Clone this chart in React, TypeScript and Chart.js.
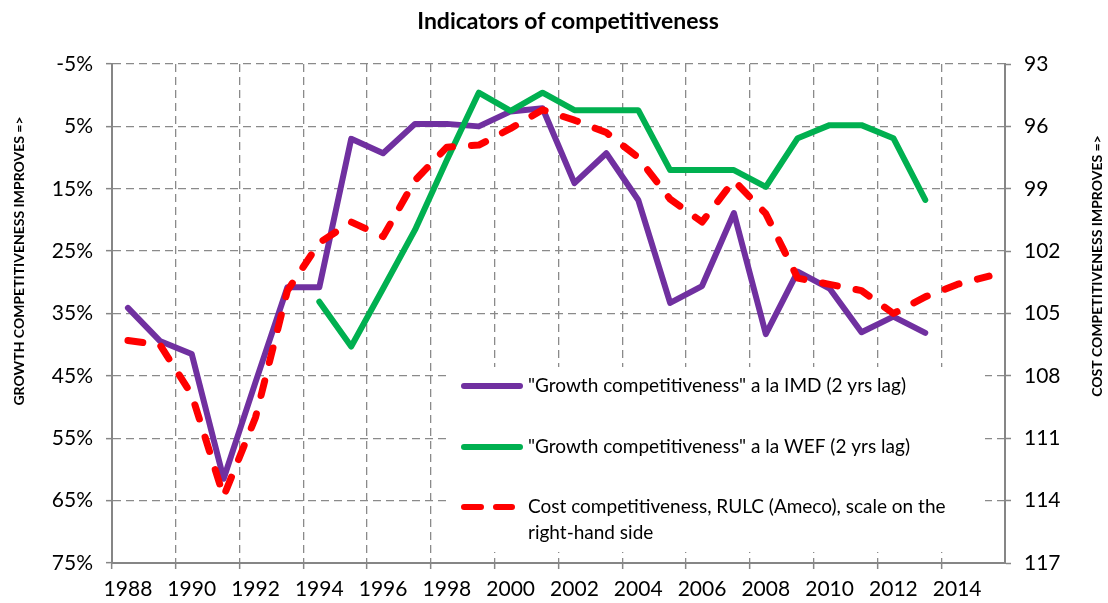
import React, { useEffect, useRef } from 'react';
import { Chart, registerables } from 'chart.js';

Chart.register(...registerables);

const years = [
  '1988', '1989', '1990', '1991', '1992', '1993', '1994', '1995', '1996', '1997',
  '1998', '1999', '2000', '2001', '2002', '2003', '2004', '2005', '2006', '2007',
  '2008', '2009', '2010', '2011', '2012', '2013', '2014', '2015',
];

// "Growth competitiveness" a la IMD (2 yrs lag), % rank (left axis, reversed)
const imd = [
  34.1, 39.4, 41.5, 61.5, 46.0, 30.8, 30.8, 7.0, 9.3, 4.6,
  4.6, 5.0, 2.6, 2.1, 14.1, 9.3, 16.8, 33.3, 30.6, 18.9,
  38.3, 28.3, 31.0, 38.0, 35.5, 38.1, null, null,
];

// "Growth competitiveness" a la WEF (2 yrs lag), % rank (left axis, reversed)
const wef = [
  null, null, null, null, null, null, 33.1, 40.3, 31.0, 21.6,
  10.4, -0.4, 2.5, -0.4, 2.4, 2.4, 2.4, 12.0, 12.0, 12.0,
  14.7, 6.9, 4.8, 4.8, 6.9, 16.8, null, null,
];

// Cost competitiveness, RULC (Ameco) (right axis, reversed)
const rulc = [
  106.3, 106.5, 108.9, 113.8, 110.0, 103.9, 101.6, 100.6, 101.3, 98.6,
  97.0, 96.9, 96.1, 95.2, 95.7, 96.3, 97.5, 99.5, 100.6, 98.6,
  100.2, 103.3, 103.6, 103.9, 105.0, 104.2, 103.6, 103.2,
];

const leftMin = -5;
const leftMax = 75;
const leftStep = 10;
const rightMin = 93;
const rightMax = 117;
const rightStep = 3;

const chartTitle = 'Indicators of competitiveness';
const leftTitle = 'GROWTH COMPETITIVENESS IMPROVES =>';
const rightTitle = 'COST COMPETITIVENESS IMPROVES =>';
const legendItems = [
  '"Growth competitiveness" a la IMD (2 yrs lag)',
  '"Growth competitiveness" a la WEF (2 yrs lag)',
  'Cost competitiveness, RULC (Ameco), scale on the',
  'right-hand side',
];

const PURPLE = '#7030A0';
const GREEN = '#00B050';
const RED = '#FF0000';
const GRID = '#8a8a8a';
const AXIS = '#868686';
const FONT = 'Lato, "Open Sans", "DejaVu Sans", sans-serif';

const decorPlugin = {
  id: 'decor',
  beforeDatasetsDraw(chart: any) {
    const ctx = chart.ctx as CanvasRenderingContext2D;
    ctx.save();
    // legend box (covers gridlines)
    ctx.fillStyle = '#ffffff';
    ctx.fillRect(446, 367, 539, 185);

    ctx.lineCap = 'round';
    ctx.lineWidth = 6;
    ctx.strokeStyle = PURPLE;
    ctx.beginPath();
    ctx.moveTo(464, 386);
    ctx.lineTo(520, 386);
    ctx.stroke();

    ctx.strokeStyle = GREEN;
    ctx.beginPath();
    ctx.moveTo(464, 447);
    ctx.lineTo(520, 447);
    ctx.stroke();

    ctx.strokeStyle = RED;
    ctx.beginPath();
    ctx.moveTo(464, 507);
    ctx.lineTo(481, 507);
    ctx.moveTo(496, 507);
    ctx.lineTo(512, 507);
    ctx.stroke();

    ctx.fillStyle = '#000';
    ctx.font = `19px ${FONT}`;
    ctx.textAlign = 'left';
    ctx.textBaseline = 'middle';
    ctx.fillText(legendItems[0], 528, 386);
    ctx.fillText(legendItems[1], 528, 447);
    ctx.fillText(legendItems[2], 528, 507);
    ctx.fillText(legendItems[3], 528, 533);
    ctx.restore();
  },
  afterDraw(chart: any) {
    const ctx = chart.ctx as CanvasRenderingContext2D;
    ctx.save();
    ctx.fillStyle = '#000';
    ctx.textAlign = 'center';
    ctx.textBaseline = 'middle';
    ctx.font = `bold 23px ${FONT}`;
    ctx.fillText(chartTitle, 568, 22);

    ctx.font = `bold 14px ${FONT}`;
    ctx.save();
    ctx.translate(19, 261);
    ctx.rotate(-Math.PI / 2);
    ctx.fillText(leftTitle, 0, 0);
    ctx.restore();

    ctx.save();
    ctx.translate(1097, 266);
    ctx.rotate(-Math.PI / 2);
    ctx.fillText(rightTitle, 0, 0);
    ctx.restore();
    ctx.restore();
  },
};

export default function App() {
  const ref = useRef<HTMLCanvasElement | null>(null);

  useEffect(() => {
    document.body.style.margin = '0';
    const canvas = ref.current;
    if (!canvas) return;
    Chart.defaults.font.family = FONT;
    Chart.defaults.color = '#000';

    const evenColor = (c: any) =>
      typeof c.index === 'number' && c.index % 2 === 0 ? GRID : 'rgba(0,0,0,0)';
    const evenTick = (c: any) =>
      typeof c.index === 'number' && c.index % 2 === 0 ? AXIS : 'rgba(0,0,0,0)';

    const chart = new Chart(canvas, {
      type: 'line',
      data: {
        labels: years,
        datasets: [
          {
            label: legendItems[2] + ' ' + legendItems[3],
            data: rulc,
            yAxisID: 'y1',
            borderColor: RED,
            borderWidth: 7,
            borderDash: [15, 19],
            borderCapStyle: 'round',
            borderJoinStyle: 'round',
            pointRadius: 0,
            tension: 0,
            order: 0,
          },
          {
            label: legendItems[1],
            data: wef,
            yAxisID: 'y',
            borderColor: GREEN,
            borderWidth: 6,
            borderJoinStyle: 'round',
            borderCapStyle: 'round',
            pointRadius: 0,
            tension: 0,
            spanGaps: false,
            order: 1,
          },
          {
            label: legendItems[0],
            data: imd,
            yAxisID: 'y',
            borderColor: PURPLE,
            borderWidth: 6,
            borderJoinStyle: 'round',
            borderCapStyle: 'round',
            pointRadius: 0,
            tension: 0,
            spanGaps: false,
            order: 2,
          },
        ],
      },
      options: {
        responsive: false,
        animation: false,
        layout: { padding: { top: 64, left: 0, right: 0, bottom: 0 } },
        plugins: {
          legend: { display: false },
          title: { display: false },
          tooltip: { enabled: false },
        },
        scales: {
          x: {
            type: 'category',
            offset: true,
            grid: {
              offset: true,
              color: evenColor,
              tickColor: evenTick,
              lineWidth: 1.3,
              tickWidth: 1.5,
              tickLength: 6,
            },
            border: { display: true, color: AXIS, width: 2, dash: [8, 5] },
            ticks: {
              autoSkip: false,
              maxRotation: 0,
              minRotation: 0,
              padding: 8,
              color: '#000',
              font: { size: 21, family: FONT },
              callback: (_v: any, i: number) => (i % 2 === 0 ? years[i] : ''),
            },
            afterFit: (s: any) => {
              s.height = 40;
            },
          },
          y: {
            position: 'left',
            reverse: true,
            min: leftMin,
            max: leftMax,
            grid: {
              color: GRID,
              tickColor: AXIS,
              lineWidth: 1.3,
              tickWidth: 1.5,
              tickLength: 6,
            },
            border: { display: true, color: AXIS, width: 2, dash: [8, 5] },
            ticks: {
              stepSize: leftStep,
              padding: 13,
              color: '#000',
              font: { size: 21, family: FONT },
              callback: (v: any) => `${v}%`,
            },
            afterFit: (s: any) => {
              s.width = 112;
            },
          },
          y1: {
            position: 'right',
            reverse: true,
            min: rightMin,
            max: rightMax,
            grid: {
              drawOnChartArea: false,
              tickColor: AXIS,
              tickWidth: 1.5,
              tickLength: 6,
            },
            border: { display: true, color: AXIS, width: 2 },
            ticks: {
              stepSize: rightStep,
              padding: 13,
              color: '#000',
              font: { size: 21, family: FONT },
            },
            afterFit: (s: any) => {
              s.width = 103;
            },
          },
        },
      },
      plugins: [decorPlugin],
    } as any);

    return () => {
      chart.destroy();
    };
  }, []);

  return (
    <div style={{ width: 1108, height: 603, position: 'relative' }}>
      <canvas ref={ref} width={1108} height={603} style={{ display: 'block' }} />
    </div>
  );
}
